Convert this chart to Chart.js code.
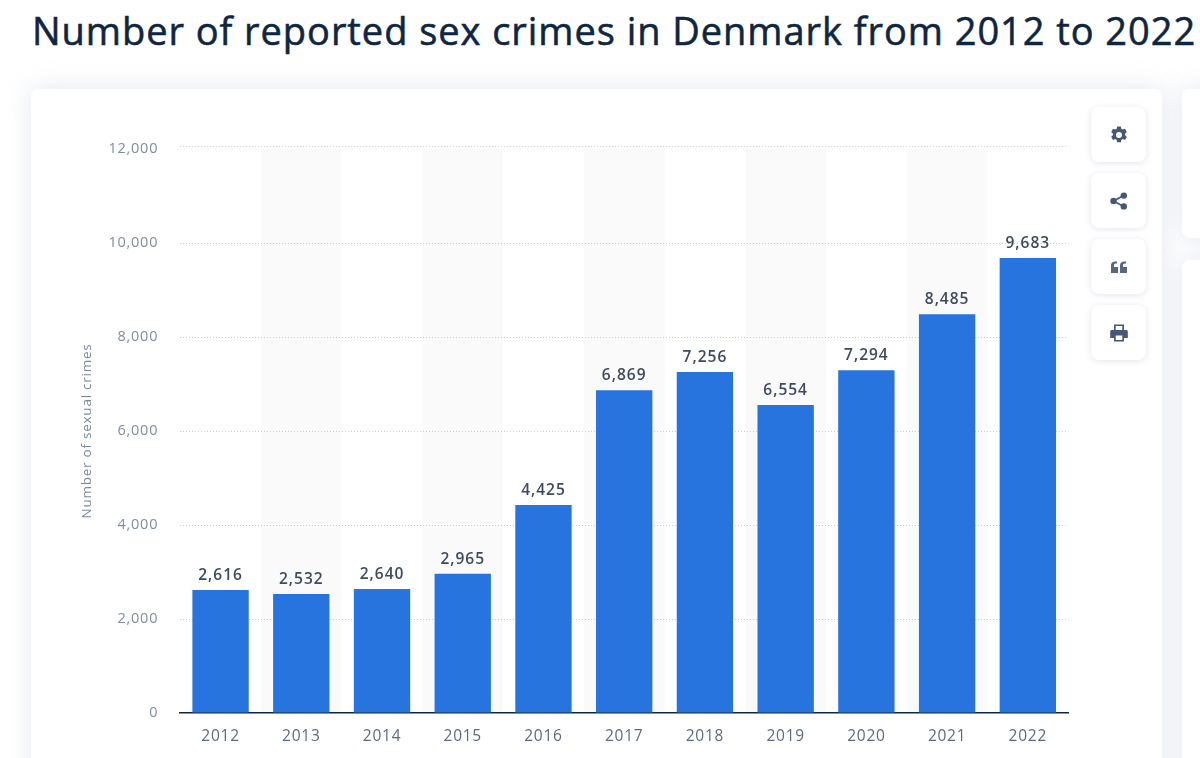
<!DOCTYPE html>
<html>
<head>
<meta charset="utf-8">
<script src="https://cdn.jsdelivr.net/npm/chart.js@4"></script>
<style>
html,body{margin:0;padding:0;background:#fff;width:1200px;height:758px;overflow:hidden;font-family:"Open Sans",sans-serif}
h1{position:absolute;left:32px;top:5px;margin:0;font-size:38px;line-height:50px;font-weight:400;-webkit-text-stroke:.55px #0f2640;color:#0f2640;white-space:nowrap;letter-spacing:.95px}
.card{position:absolute;background:#fff;border-radius:7px;box-shadow:0 0 24px rgba(180,190,210,.38)}
#main{left:31px;top:89px;width:1131px;height:700px}
.side{left:1182px;width:60px}
canvas{position:absolute;left:0;top:0}
.btn{position:absolute;left:1091px;width:55px;height:55px;background:#fff;border-radius:8px;box-shadow:0 1px 6px rgba(170,180,200,.35);display:flex;align-items:center;justify-content:center}
</style>
</head>
<body>
<h1>Number of reported sex crimes in Denmark from 2012 to 2022</h1>
<div class="card" id="main"></div>
<div class="card side" style="top:89px;height:149px"></div>
<div class="card side" style="top:260px;height:540px"></div>
<div class="btn" style="top:107px"><svg width="20" height="20" viewBox="0 0 20 20"><path fill="#455878" fill-rule="evenodd" d="M8.2 1.5h3.6l.5 2.3 1.5.8 2.2-.8 1.8 3.1-1.7 1.6v1.7l1.7 1.6-1.8 3.1-2.2-.8-1.5.8-.5 2.3H8.2l-.5-2.3-1.5-.8-2.2.8-1.8-3.1 1.7-1.6V8.5L2.2 6.9 4 3.8l2.2.8 1.5-.8zM10 7a3 3 0 1 0 0 6 3 3 0 0 0 0-6z"/></svg></div>
<div class="btn" style="top:173px"><svg width="20" height="20" viewBox="0 0 20 20"><g fill="#455878"><circle cx="4.5" cy="10" r="3.2"/><circle cx="14.8" cy="4.6" r="3.2"/><circle cx="14.8" cy="15.4" r="3.2"/></g><path d="M14.8 4.6 4.5 10l10.3 5.4" fill="none" stroke="#455878" stroke-width="1.7"/></svg></div>
<div class="btn" style="top:239px"><svg width="20" height="20" viewBox="0 0 20 20"><path fill="#56687f" d="M2 16V8.5C2 6 3.600 4.500 6.500 4.500H8v2H7C5.500 6.500 5 7.200 5 8.500V10h4v6zM11 16V8.500C11 6 12.600 4.500 15.500 4.500H17v2h-1C14.500 6.500 14 7.200 14 8.500V10h4v6z"/></svg></div>
<div class="btn" style="top:305px"><svg width="20" height="20" viewBox="0 0 20 20"><path fill="#455878" fill-rule="evenodd" d="M5 1.500h10V7h2.200c.9 0 1.600.7 1.600 1.600V15H15v3.500H5V15H1.200V8.600C1.200 7.700 1.900 7 2.800 7H5zM6.700 3v4h6.600V3zM6.700 12.500V17h6.600v-4.500z"/></svg></div>
<canvas id="c" width="1200" height="758"></canvas>
<script>
const categories = ["2012","2013","2014","2015","2016","2017","2018","2019","2020","2021","2022"];
const crimes = [2616,2532,2640,2965,4425,6869,7256,6554,7294,8485,9683];
const yTicks = [0,2000,4000,6000,8000,10000,12000];
const axisTitle = "Number of sexual crimes";
const fmt = v => v.toLocaleString("en-US");
const yMax = yTicks[yTicks.length-1];

const stripes = {
  id:"stripes",
  beforeDraw(chart){
    const {ctx,chartArea:a,scales:{x,y}} = chart;
    const w = x.getPixelForValue(1)-x.getPixelForValue(0);
    ctx.save();
    ctx.fillStyle="#fafafa";
    categories.forEach((c,i)=>{
      if(i%2===1) ctx.fillRect(x.getPixelForValue(i)-w/2,a.top,w,a.bottom-a.top);
    });
    // the top grid line sits slightly above the scale's maximum
    ctx.strokeStyle="#c4cad6";
    ctx.lineWidth=1;
    ctx.setLineDash([1,2]);
    ctx.beginPath();
    const yt=Math.round(y.getPixelForValue(yMax))-2.5;
    ctx.moveTo(a.left,yt);ctx.lineTo(a.right,yt);
    ctx.stroke();
    ctx.restore();
    ctx.letterSpacing="0.75px";
  }
};
const valueLabels = {
  id:"valueLabels",
  afterDatasetsDraw(chart){
    const {ctx} = chart;
    ctx.save();
    ctx.font='600 15.5px "Open Sans"';
    ctx.fillStyle="#3d4a60";
    ctx.textAlign="center";
    ctx.textBaseline="alphabetic";
    ctx.letterSpacing="1px";
    chart.getDatasetMeta(0).data.forEach((b,i)=>{
      ctx.fillText(fmt(crimes[i]),b.x,b.y-10);
    });
    ctx.restore();
  }
};
new Chart(document.getElementById("c"),{
  type:"bar",
  data:{labels:categories,datasets:[{data:crimes,backgroundColor:"#2874de",categoryPercentage:1,barPercentage:0.698}]},
  plugins:[stripes,valueLabels],
  options:{
    responsive:false,animation:false,devicePixelRatio:1,
    layout:{padding:{left:0,right:131.8,top:149,bottom:0}},
    plugins:{legend:{display:false},tooltip:{enabled:false}},
    scales:{
      x:{
        afterFit(s){s.height=45;},
        grid:{display:false,drawTicks:false},
        border:{display:true,color:"#0f2640",width:1.5},
        ticks:{padding:14,color:"#5c6b82",font:{family:"Open Sans",size:15.5},maxRotation:0}
      },
      y:{
        min:0,max:yMax,
        afterFit(s){s.width=180.2;},
        afterBuildTicks(s){s.ticks=yTicks.map(v=>({value:v}));},
        grid:{color:c=>c.tick&&(c.tick.value===0||c.tick.value===yMax)?"rgba(0,0,0,0)":"#c4cad6",lineWidth:1,drawTicks:false},
        border:{display:false,dash:[1,2]},
        title:{display:true,text:axisTitle,color:"#7b8aa0",font:{family:"Open Sans",size:13.5},padding:{top:79,bottom:0}},
        ticks:{padding:22,color:"#808da3",font:{family:"Open Sans",size:14.5},callback:v=>fmt(v)}
      }
    }
  }
});
</script>
</body>
</html>
